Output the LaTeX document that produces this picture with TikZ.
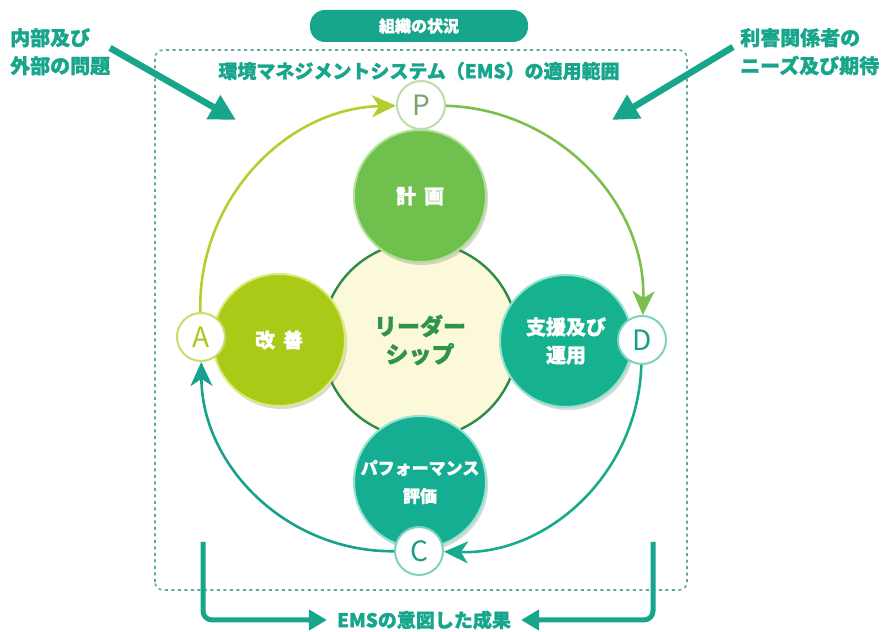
\documentclass[tikz,border=0pt]{standalone}
\usepackage{fontspec}
\setmainfont{Noto Sans CJK JP}[BoldFeatures={FakeBold=1.3}]
\usetikzlibrary{arrows.meta,shadows}
\definecolor{tealA}{HTML}{17A68C}
\definecolor{tealT}{HTML}{1A9E86}
\definecolor{dashc}{HTML}{5FA89A}
\definecolor{planf}{HTML}{6FC04C}
\definecolor{planb}{HTML}{B4E09A}
\definecolor{actf}{HTML}{AACA18}
\definecolor{actb}{HTML}{DCEB7A}
\definecolor{dof}{HTML}{16B28F}
\definecolor{dob}{HTML}{94E3CF}
\definecolor{chkf}{HTML}{15AE93}
\definecolor{cream}{HTML}{FCF8DA}
\definecolor{ldrb}{HTML}{2F8A45}
\definecolor{ldrt}{HTML}{2E9448}
\definecolor{arcAP}{HTML}{B3CE2E}
\definecolor{arcPD}{HTML}{7CBF4D}
\definecolor{arcDC}{HTML}{19AA8C}
\definecolor{arcCA}{HTML}{17A28C}
\definecolor{letP}{HTML}{7FA070}
\definecolor{ringP}{HTML}{BFDDAA}
\definecolor{ringA}{HTML}{C9DC6A}
\definecolor{ringD}{HTML}{7ED2BE}
\tikzset{
  jp/.style={font=\fontsize{#1}{28}\selectfont\bfseries},
  lbltext/.style={text=tealA, jp=19, align=left, inner sep=0pt},
  innerc/.style={circle, minimum size=132pt, line width=2pt, text=white, align=center, inner sep=0pt,
     drop shadow={shadow xshift=2pt, shadow yshift=-3pt, opacity=0.3, fill=black!50}},
  letc/.style={circle, minimum size=48pt, fill=white, line width=2pt, inner sep=0pt,
     font=\fontsize{28}{28}\selectfont},
  arcline/.style={line width=2.6pt, -{Stealth[length=24pt,width=22pt,inset=7pt]}},
  bigarrow/.style={draw=tealA, line width=6.5pt, -{Triangle[length=26pt,width=26pt]}},
  botarrow/.style={draw=tealA, line width=5pt, rounded corners=9pt, -{Triangle[length=18pt,width=20pt]}},
}
\begin{document}
\begin{tikzpicture}[x=1pt,y=1pt]
\useasboundingbox (0,0) rectangle (892,632);
% scope box
\draw[dashc, line width=1.6pt, dash pattern=on 3pt off 3.5pt, rounded corners=8pt] (155,42) rectangle (687,582);
% title pill
\node[fill=tealA, rounded corners=15pt, minimum width=218pt, minimum height=32pt, text=white, jp=16] (org) at (419,606) {組織の状況};
\node[lbltext] (scope) at (419,561) {環境マネジメントシステム（EMS）の適用範囲};
% side labels
\node[lbltext, anchor=north west, jp=20] (issues) at (10,604) {内部及び\\外部の問題};
\node[lbltext, anchor=north west, jp=20] (needs) at (740,604) {利害関係者の\\ニーズ及び期待};
\coordinate (ia1) at (110,584);
\coordinate (ia2) at (236,512);
\coordinate (na1) at (733,585);
\coordinate (na2) at (612,512);
\draw[bigarrow] (ia1) -- (ia2);
\draw[bigarrow] (na1) -- (na2);
% leadership
\node[circle, minimum size=196pt, fill=cream, draw=ldrb, line width=2.4pt, text=ldrt, jp=23, align=center, inner sep=0pt] (lead) at (420,292) {リーダー\\シップ};
% inner circles
\node[innerc, fill=planf, draw=planb, jp=20] (plan) at (420,436) {計\hspace{8pt}画};
\node[innerc, fill=actf, draw=actb, jp=20] (act) at (279,292) {改\hspace{8pt}善};
\node[innerc, fill=dof, draw=dob, jp=20] (do) at (566,291) {支援及び\\運用};
\node[innerc, fill=chkf, draw=dob, jp=17] (chk) at (420,150) {パフォーマンス\\評価};
% letter circles
\node[letc, draw=ringP, text=letP] (P) at (421,527) {P};
\node[letc, draw=ringA, text=actf] (A) at (201,295) {A};
\node[letc, draw=ringD, text=tealT] (D) at (642,292) {D};
\node[letc, draw=ringD, text=tealT] (C) at (419,81) {C};
% cycle arcs
\draw[arcline, draw=arcAP] (A) to[bend left=45] (P);
\draw[arcline, draw=arcPD] (P) to[bend left=45] (D);
\draw[arcline, draw=arcDC] (D) to[bend left=45] (C);
\draw[arcline, draw=arcCA] (C) to[bend left=45] (A);
% outcome
\node[text=tealA, jp=19, inner sep=0pt] (out) at (424,12) {EMSの意図した成果};
\coordinate (bl) at (203,90);
\coordinate (br) at (653,90);
\draw[botarrow] (bl) |- ([xshift=-10pt]out.west);
\draw[botarrow] (br) |- ([xshift=10pt]out.east);
\end{tikzpicture}
\end{document}
